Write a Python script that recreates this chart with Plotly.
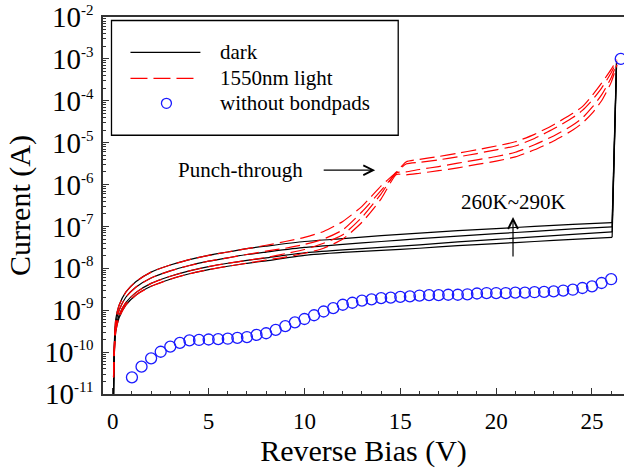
import plotly.graph_objects as go

# Reverse bias (V) sample points for the dark I-V sweeps (260 K ... 290 K)
v_dark = [0.03, 0.08, 0.16, 0.33, 0.68, 1.2, 2, 3, 4, 5, 6, 7, 8, 10, 12, 14,
          16, 18, 20, 22, 24, 26.05, 26.28]
dark_290 = [3.2e-12, 1.58e-10, 6.31e-10, 1.32e-9, 2.69e-9, 4.79e-9, 8.13e-9, 1.20e-8,
            1.62e-8, 2.04e-8, 2.45e-8, 2.95e-8, 3.39e-8, 4.37e-8, 5.13e-8, 6.03e-8,
            6.92e-8, 7.94e-8, 8.91e-8, 1.0e-7, 1.12e-7, 1.23e-7, 8.9e-4]
dark_280 = [3.2e-12, 1.26e-10, 4.79e-10, 1.0e-9, 2.04e-9, 3.55e-9, 5.89e-9, 8.71e-9,
            1.17e-8, 1.48e-8, 1.78e-8, 2.14e-8, 2.45e-8, 3.16e-8, 3.72e-8, 4.37e-8,
            5.13e-8, 5.89e-8, 6.76e-8, 7.59e-8, 8.71e-8, 9.77e-8, 7.9e-4]
dark_270 = [3.2e-12, 1.05e-10, 3.72e-10, 7.59e-10, 1.51e-9, 2.63e-9, 4.37e-9, 6.46e-9,
            8.71e-9, 1.10e-8, 1.32e-8, 1.55e-8, 1.78e-8, 2.34e-8, 2.75e-8, 3.16e-8,
            3.63e-8, 4.27e-8, 4.90e-8, 5.62e-8, 6.46e-8, 7.41e-8, 7.2e-4]
dark_260 = [3.2e-12, 8.9e-11, 3.16e-10, 6.61e-10, 1.32e-9, 2.29e-9, 3.72e-9, 5.50e-9,
            7.41e-9, 9.33e-9, 1.12e-8, 1.32e-8, 1.51e-8, 2.04e-8, 2.40e-8, 2.69e-8,
            3.02e-8, 3.47e-8, 3.89e-8, 4.37e-8, 4.90e-8, 5.50e-8, 6.9e-4]

# Sweeps under 1550 nm illumination
v_light = [0.04, 0.08, 0.16, 0.33, 0.68, 1.2, 2, 3, 4, 5, 6, 7, 8, 9, 10, 11, 12,
           13, 14, 14.8, 15.3, 16, 17, 18, 19, 20, 21, 22, 23, 24, 24.5, 25, 25.5,
           26, 26.3]
light_290 = [2.51e-11, 1.58e-10, 6.31e-10, 1.32e-9, 2.69e-9, 4.79e-9, 8.13e-9, 1.20e-8,
             1.62e-8, 2.04e-8, 2.45e-8, 2.95e-8, 3.55e-8, 4.37e-8, 5.50e-8, 7.59e-8,
             1.32e-7, 3.02e-7, 9.33e-7, 2.0e-6, 3.47e-6, 3.98e-6, 4.68e-6, 5.62e-6,
             6.76e-6, 8.32e-6, 1.05e-5, 1.58e-5, 2.69e-5, 5.01e-5, 7.24e-5, 1.32e-4,
             2.63e-4, 5.62e-4, 9.55e-4]
light_280 = [2.51e-11, 1.26e-10, 4.79e-10, 1.0e-9, 2.04e-9, 3.55e-9, 5.89e-9, 8.71e-9,
             1.17e-8, 1.48e-8, 1.78e-8, 2.14e-8, 2.57e-8, 3.02e-8, 3.72e-8, 5.01e-8,
             8.32e-8, 2.24e-7, 7.24e-7, 1.91e-6, 3.09e-6, 3.39e-6, 3.89e-6, 4.57e-6,
             5.50e-6, 6.76e-6, 8.32e-6, 1.26e-5, 2.14e-5, 3.98e-5, 5.89e-5, 1.02e-4,
             2.0e-4, 4.68e-4, 8.71e-4]
light_270 = [2.51e-11, 1.05e-10, 3.72e-10, 7.59e-10, 1.51e-9, 2.63e-9, 4.37e-9, 6.46e-9,
             8.71e-9, 1.10e-8, 1.32e-8, 1.55e-8, 1.82e-8, 2.24e-8, 2.82e-8, 3.98e-8,
             6.31e-8, 1.66e-7, 6.03e-7, 1.91e-6, 2.0e-6, 2.29e-6, 2.69e-6, 3.24e-6,
             3.89e-6, 4.68e-6, 5.89e-6, 8.91e-6, 1.45e-5, 2.63e-5, 3.89e-5, 6.92e-5,
             1.38e-4, 3.55e-4, 7.94e-4]
light_260 = [2.51e-11, 8.9e-11, 3.16e-10, 6.61e-10, 1.32e-9, 2.29e-9, 3.72e-9, 5.50e-9,
             7.41e-9, 9.33e-9, 1.12e-8, 1.32e-8, 1.58e-8, 1.86e-8, 2.29e-8, 3.02e-8,
             5.01e-8, 1.26e-7, 4.57e-7, 1.74e-6, 1.70e-6, 1.86e-6, 2.14e-6, 2.51e-6,
             3.02e-6, 3.63e-6, 4.57e-6, 6.76e-6, 1.10e-5, 2.0e-5, 2.95e-5, 5.01e-5,
             1.0e-4, 2.75e-4, 7.24e-4]

# Device without bondpads
v_nopad = [1.0, 1.5, 2.0, 2.5, 3.0, 3.5, 4.0, 4.5, 5.0, 5.5, 6.0, 6.5, 7.0, 7.5, 8.0,
           8.5, 9.0, 9.5, 10.0, 10.5, 11.0, 11.5, 12.0, 12.5, 13.0, 13.5, 14.0, 14.5,
           15.0, 15.5, 16.0, 16.5, 17.0, 17.5, 18.0, 18.5, 19.0, 19.5, 20.0, 20.5,
           21.0, 21.5, 22.0, 22.5, 23.0, 23.5, 24.0, 24.5, 25.0, 25.5, 26.0, 26.5]
i_nopad = [2.5e-11, 4.5e-11, 7.1e-11, 1.02e-10, 1.35e-10, 1.66e-10, 1.9e-10, 1.95e-10,
           2.0e-10, 2.04e-10, 2.09e-10, 2.19e-10, 2.29e-10, 2.57e-10, 2.82e-10,
           3.39e-10, 4.17e-10, 5.13e-10, 6.17e-10, 7.59e-10, 9.33e-10, 1.12e-9,
           1.35e-9, 1.51e-9, 1.70e-9, 1.82e-9, 1.95e-9, 2.0e-9, 2.09e-9, 2.14e-9,
           2.24e-9, 2.29e-9, 2.29e-9, 2.34e-9, 2.34e-9, 2.40e-9, 2.51e-9, 2.57e-9,
           2.57e-9, 2.57e-9, 2.63e-9, 2.63e-9, 2.69e-9, 2.75e-9, 2.82e-9, 2.95e-9,
           3.09e-9, 3.39e-9, 3.72e-9, 4.47e-9, 5.5e-9, 1.0e-3]

# Axis ticks
x_ticks = [0, 5, 10, 15, 20, 25]
y_exponents = [-11, -10, -9, -8, -7, -6, -5, -4, -3, -2]

FONT = "Liberation Serif, Times New Roman, serif"
BLACK = "#000000"
AXIS = "#333333"
RED = "#ff0000"
BLUE = "#1a1aff"
DASH = "15px,6px"

fig = go.Figure()

for series in (dark_290, dark_280, dark_270, dark_260):
    # smooth sweep up to the breakdown, then the straight jump to compliance
    fig.add_trace(go.Scatter(
        x=v_dark[:-1], y=series[:-1], mode="lines",
        line=dict(color=BLACK, width=1.2, shape="spline", smoothing=0.6),
        showlegend=False, hoverinfo="skip"))
    fig.add_trace(go.Scatter(
        x=v_dark[-2:], y=series[-2:], mode="lines",
        line=dict(color=BLACK, width=1.2),
        showlegend=False, hoverinfo="skip"))

for series in (light_290, light_280, light_270, light_260):
    fig.add_trace(go.Scatter(
        x=v_light, y=series, mode="lines",
        line=dict(color=RED, width=1.2, dash=DASH, shape="spline", smoothing=0.6),
        showlegend=False, hoverinfo="skip"))

fig.add_trace(go.Scatter(
    x=v_nopad, y=i_nopad, mode="markers",
    marker=dict(symbol="circle-open", size=11, color=BLUE, line=dict(width=1.3, color=BLUE)),
    showlegend=False, hoverinfo="skip", cliponaxis=False))

# Plot-area geometry (pixels) used for the hand-drawn legend box
L, R, T, B = 102.5, 0, 16.5, 80.7
W, H = 624, 475
PW, PH = W - L - R, H - T - B


def px(x):
    return (x - L) / PW


def py(y):
    return (H - B - y) / PH


shapes = [
    dict(type="rect", xref="paper", yref="paper", x0=px(111), x1=px(398),
         y0=py(135), y1=py(20), line=dict(color=BLACK, width=1.3), fillcolor="white",
         layer="above"),
    dict(type="line", xref="paper", yref="paper", x0=px(130), x1=px(200),
         y0=py(52), y1=py(52), line=dict(color=BLACK, width=1.2)),
    dict(type="line", xref="paper", yref="paper", x0=px(130), x1=px(196),
         y0=py(78), y1=py(78), line=dict(color=RED, width=1.2, dash="17px,6px")),
    dict(type="circle", xref="paper", yref="paper", xsizemode="pixel",
         ysizemode="pixel", xanchor=px(166), yanchor=py(103),
         x0=-5, x1=5, y0=-5, y1=5, line=dict(color=BLUE, width=1.3)),
]

legend_labels = ["dark", "1550nm light", "without bondpads"]
legend_rows = [52, 78, 103]
annotations = [
    dict(xref="paper", yref="paper", x=px(218), y=py(r), text=t, showarrow=False,
         xanchor="left", yanchor="middle", font=dict(family=FONT, size=21, color=BLACK))
    for t, r in zip(legend_labels, legend_rows)
]

annotations += [
    dict(x=6.66, y=-5.66, text="Punch-through", showarrow=False,
         font=dict(family=FONT, size=21, color=BLACK)),
    dict(x=13.69, y=-5.657, ax=-53, ay=0, text="", showarrow=True, arrowhead=5,
         arrowsize=1.6, arrowwidth=1.2, arrowcolor=BLACK),
    dict(x=20.9, y=-6.41, text="260K~290K", showarrow=False,
         font=dict(family=FONT, size=21, color=BLACK)),
    dict(x=20.88, y=-6.777, ax=0, ay=41, text="", showarrow=True, arrowhead=5,
         arrowsize=1.6, arrowwidth=1.2, arrowcolor=BLACK),
]

fig.update_layout(
    width=W, height=H,
    margin=dict(l=L, r=R, t=T, b=B, pad=0),
    paper_bgcolor="white", plot_bgcolor="white",
    font=dict(family=FONT, color=BLACK),
    shapes=shapes, annotations=annotations,
)

fig.update_xaxes(
    range=[-0.51, 26.67], showgrid=False, zeroline=False,
    showline=True, linecolor=AXIS, linewidth=1.5, mirror=True,
    ticks="inside", ticklen=6, tickcolor=AXIS, tickwidth=1,
    tickvals=x_ticks, ticktext=[str(t) for t in x_ticks],
    tickfont=dict(family=FONT, size=23, color=BLACK),
    ticklabelstandoff=6,
    minor=dict(dtick=1, ticks="inside", ticklen=3, tickcolor=AXIS),
    title=dict(text="Reverse Bias (V)", font=dict(family=FONT, size=30, color=BLACK),
               standoff=6),
    automargin=False,
)

fig.update_yaxes(
    type="log", range=[-11, -2], showgrid=False, zeroline=False,
    showline=True, linecolor=AXIS, linewidth=1.5, mirror=False,
    ticks="inside", ticklen=6, tickcolor=AXIS, tickwidth=1,
    tickvals=[10.0 ** e for e in y_exponents],
    ticktext=[f"10<sup><span style='font-size:15px'>{e}</span></sup>" for e in y_exponents],
    tickfont=dict(family=FONT, size=29, color=BLACK),
    ticklabelstandoff=2,
    minor=dict(ticks="inside", ticklen=3, tickcolor=AXIS, dtick="D1"),
    title=dict(text="Current (A)", font=dict(family=FONT, size=30, color=BLACK),
               standoff=5),
    automargin=False,
)

fig.write_html("out.html")
